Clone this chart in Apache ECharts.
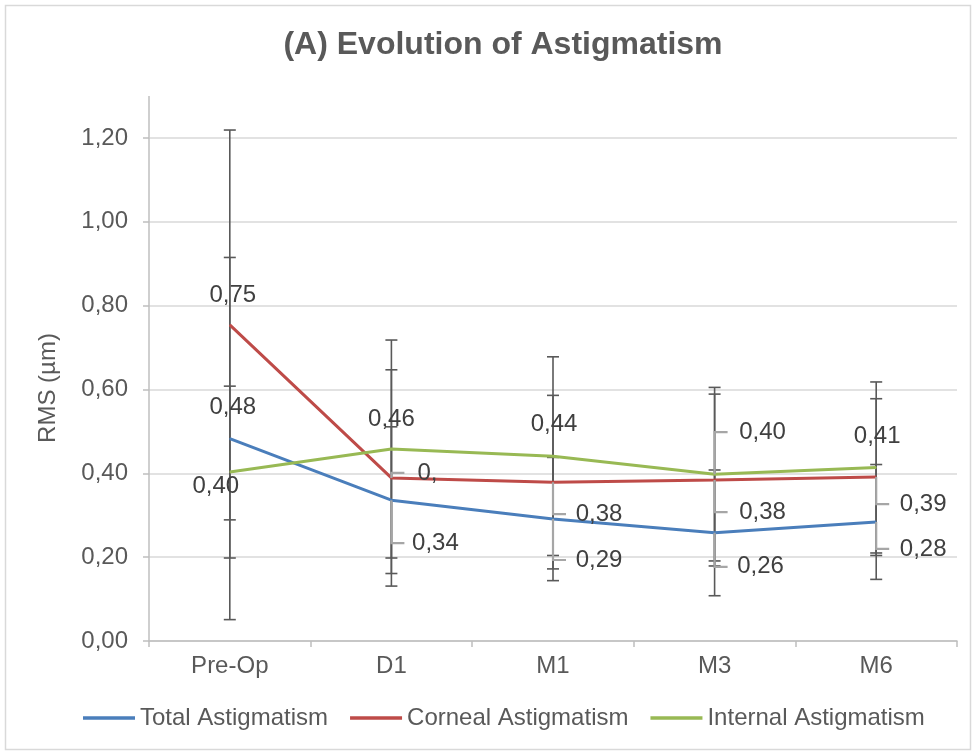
<!DOCTYPE html>
<html><head><meta charset="utf-8">
<script src="https://cdn.jsdelivr.net/npm/echarts@6/dist/echarts.min.js"></script>
<style>html,body{margin:0;padding:0;background:#fff}#c{width:976px;height:754px}</style>
</head><body><div id="c"></div>
<script>
// ---- data ----
const categories = ['Pre-Op', 'D1', 'M1', 'M3', 'M6'];
const seriesNames = ['Total Astigmatism', 'Corneal Astigmatism', 'Internal Astigmatism'];
const totalValues = [0.483, 0.336, 0.291, 0.258, 0.284];
const cornealValues = [0.754, 0.389, 0.379, 0.384, 0.391];
const internalValues = [0.403, 0.458, 0.441, 0.398, 0.414];
const totalErrors = [0.432, 0.175, 0.147, 0.150, 0.137];
const cornealErrors = [0.465, 0.258, 0.207, 0.205, 0.187];
const internalErrors = [0.205, 0.260, 0.237, 0.207, 0.204];
const yAxisMin = 0, yAxisMax = 1.2, yAxisStep = 0.2;
// label shown truncated in the original for Corneal / D1
const truncatedLabels = { '1-1': '0,' };

// ---- styling / layout ----
const colors = ['#4a7ebb', '#be4b48', '#98b954'];
const FONT = "'Liberation Sans', Arial, sans-serif";
const TXT = '#595959';
const FS = 24;
// [dx, dy, hasLeader] of label centre relative to the point
const labelLayouts = [
  [[3, -31, 0], [44, 43, 1], [46, 41, 1], [46, 34, 1], [47, 27, 1]],
  [[3, -30, 0], [36, -5, 1], [46, 32, 1], [48, 32, 1], [47, 27, 1]],
  [[-14, 14, 0], [0, -30, 0], [1, -32, 0], [48, -42, 1], [1, -31, 0]]
];

const allValues = [totalValues, cornealValues, internalValues];
const allErrors = [totalErrors, cornealErrors, internalErrors];
const fmt = v => v.toFixed(2).replace('.', ',');

const series = [];
// error bars
allValues.forEach((vals, s) => {
  series.push({
    type: 'custom', name: 'err' + s, z: 1, silent: true,
    data: vals.map((v, i) => [i, v - allErrors[s][i], v + allErrors[s][i]]),
    encode: { x: 0, y: [1, 2] },
    renderItem: (params, api) => {
      const lo = api.coord([api.value(0), api.value(1)]);
      const hi = api.coord([api.value(0), api.value(2)]);
      const x = lo[0], w = 6;
      const st = { stroke: '#595959', lineWidth: 1.6 };
      return { type: 'group', children: [
        { type: 'line', shape: { x1: x, y1: lo[1], x2: x, y2: hi[1] }, style: st },
        { type: 'line', shape: { x1: x - w, y1: lo[1], x2: x + w, y2: lo[1] }, style: st },
        { type: 'line', shape: { x1: x - w, y1: hi[1], x2: x + w, y2: hi[1] }, style: st }
      ]};
    }
  });
});
// lines
allValues.forEach((vals, s) => {
  series.push({
    type: 'line', name: seriesNames[s], z: 2,
    symbol: 'circle', symbolSize: 1, showSymbol: true,
    lineStyle: { color: colors[s], width: 3 },
    itemStyle: { color: colors[s] },
    emphasis: { disabled: true },
    data: vals.map((v, i) => ({
      value: v,
      label: { offset: [labelLayouts[s][i][0], labelLayouts[s][i][1]] }
    })),
    label: {
      show: true, position: 'inside', color: '#404040', fontSize: FS, fontFamily: FONT,
      align: 'center', verticalAlign: 'middle',
      formatter: p => truncatedLabels[s + '-' + p.dataIndex] || fmt(p.value)
    }
  });
});
// leader lines
allValues.forEach((vals, s) => {
  series.push({
    type: 'custom', name: 'lead' + s, z: 3, silent: true,
    data: vals.map((v, i) => [i, v, labelLayouts[s][i][1], labelLayouts[s][i][2]]),
    encode: { x: 0, y: 1 },
    renderItem: (params, api) => {
      if (!api.value(3)) return null;
      const p = api.coord([api.value(0), api.value(1)]);
      const ly = p[1] + api.value(2);
      return { type: 'polyline', shape: { points: [[p[0], p[1]], [p[0], ly], [p[0] + 13, ly]] },
        style: { stroke: '#a6a6a6', lineWidth: 2.2, fill: null } };
    }
  });
});

const chart = echarts.init(document.getElementById('c'), null, { renderer: 'canvas' });
chart.setOption({
  animation: false,
  backgroundColor: '#fff',
  textStyle: { fontFamily: FONT },
  grid: { left: 149, right: 19, top: 138, bottom: 113, containLabel: false },
  legend: {
    data: seriesNames, left: 83, top: 706, icon: 'rect', itemWidth: 52, itemHeight: 3.5,
    itemGap: 22, padding: 0, textStyle: { fontSize: FS, color: TXT, fontFamily: FONT }
  },
  xAxis: {
    type: 'category', data: categories, boundaryGap: true,
    axisLine: { lineStyle: { color: '#bfbfbf', width: 1.5 } },
    axisTick: { show: true, length: 6, lineStyle: { color: '#bfbfbf', width: 1.5 } },
    axisLabel: { margin: 13, fontSize: FS, color: TXT, fontFamily: FONT }
  },
  yAxis: {
    type: 'value', min: yAxisMin, max: yAxisMax, interval: yAxisStep,
    axisLine: { show: true, lineStyle: { color: '#bfbfbf', width: 1.5 } },
    axisTick: { show: true, length: 6, lineStyle: { color: '#bfbfbf', width: 1.5 } },
    splitLine: { lineStyle: { color: '#d9d9d9', width: 1.5 } },
    axisLabel: { margin: 21, fontSize: FS, color: TXT, fontFamily: FONT, formatter: v => fmt(v) }
  },
  graphic: [
    { type: 'rect', shape: { x: 5.5, y: 5.5, width: 965, height: 744 }, style: { fill: null, stroke: '#d9d9d9', lineWidth: 1.5 }, z: -1, silent: true },
    { type: 'line', shape: { x1: 149, y1: 96, x2: 149, y2: 138 }, style: { stroke: '#bfbfbf', lineWidth: 1.5 }, silent: true },
    { type: 'text', x: 503, y: 45, silent: true,
      style: { text: '(A) Evolution of Astigmatism', fill: TXT, font: "bold 32px 'Liberation Sans', Arial, sans-serif", textAlign: 'center', textVerticalAlign: 'middle' } },
    { type: 'text', x: 48, y: 388, rotation: Math.PI / 2, silent: true,
      style: { text: 'RMS (µm)', fill: TXT, font: "24px 'Liberation Sans', Arial, sans-serif", textAlign: 'center', textVerticalAlign: 'middle' } }
  ],
  series: series
});
</script></body></html>
